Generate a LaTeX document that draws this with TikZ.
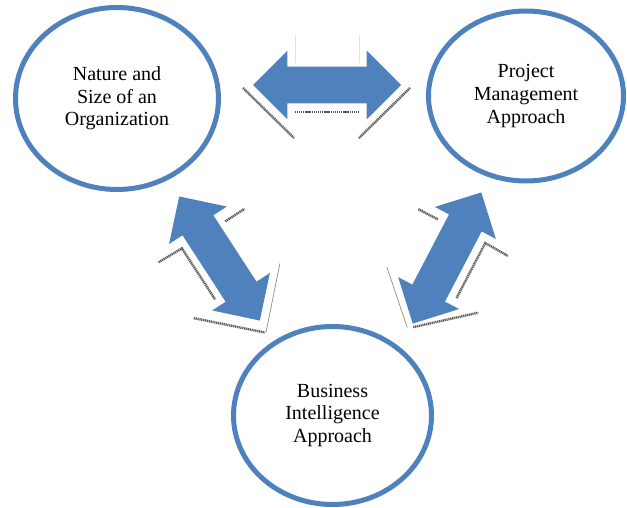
\documentclass[tikz,border=0pt]{standalone}
\usepackage{fontspec}
\setmainfont{Liberation Serif}
\usepackage{tikz}
\usetikzlibrary{shapes.geometric, shapes.arrows}
\definecolor{ovalblue}{HTML}{4F81BD}
\definecolor{arrowblue}{HTML}{4F81BD}
\tikzset{
  topic/.style={
    ellipse,
    draw=ovalblue, line width=2.5pt,
    fill=white,
    align=center,
    inner sep=0pt,
    font=\fontsize{10}{11.3}\selectfont},
  link/.style={
    double arrow,
    fill=arrowblue,
    double arrow head extend=8pt,
    inner xsep=0pt, inner ysep=9pt,
    minimum height=74pt},
  % grey bevel edges left around the arrows
  hatch/.style={draw=black!65, line width=1.2pt, dash pattern=on 0.6pt off 0.35pt},
  hairline/.style={draw=black!45, line width=0.35pt},
}
\begin{document}
\begin{tikzpicture}[x=0.5pt, y=-0.5pt]
\useasboundingbox (0,0) rectangle (627,508);

\node[topic, minimum width=101.5pt, minimum height=91pt] (nature) at (117,98.5)
  {Nature and\\ Size of an\\ Organization};
\node[topic, minimum width=97.5pt, minimum height=85pt] (project) at (526,96)
  {Project\\ Management\\ Approach};
\node[topic, minimum width=99pt, minimum height=89pt] (bi) at (332.5,415.5)
  {Business\\ Intelligence\\ Approach};

\node[link] (np) at (327,85) {};
\node[link, rotate=-57] (nb) at (219.5,258.5) {};
\node[link, rotate=62.4] (pb) at (447,258) {};

% edges, drawn in each arrow's own frame
\begin{scope}[shift={(np.center)}]
  \draw[hatch] (-84,3) -- (-33,53);
  \draw[hatch] (-32,27) -- (32,27);
  \draw[hatch] (32,53) -- (83,3);
  \draw[hairline, draw=black!12] (-32,-50) -- (-32,-22);
  \draw[hairline, draw=black!12] (32,-50) -- (32,-22);
\end{scope}
\begin{scope}[shift={(nb.center)}, rotate=-57]
  \draw[hatch] (-30,53) -- (-29,26) -- (32,26);
  \draw[hatch] (36,54) -- (87,2);
  \draw[hatch] (-28,-25) -- (-28,-48);
  \draw[hairline] (37,-48) -- (87,1);
\end{scope}
\begin{scope}[shift={(pb.center)}, rotate=62.4]
  \draw[hatch] (-77,2) -- (-34,53);
  \draw[hatch] (-31,27) -- (31,27) -- (30,53);
  \draw[hatch] (30,-48) -- (30,-26);
  \draw[hairline] (-36,-49) -- (-80,-3);
\end{scope}
\end{tikzpicture}
\end{document}
